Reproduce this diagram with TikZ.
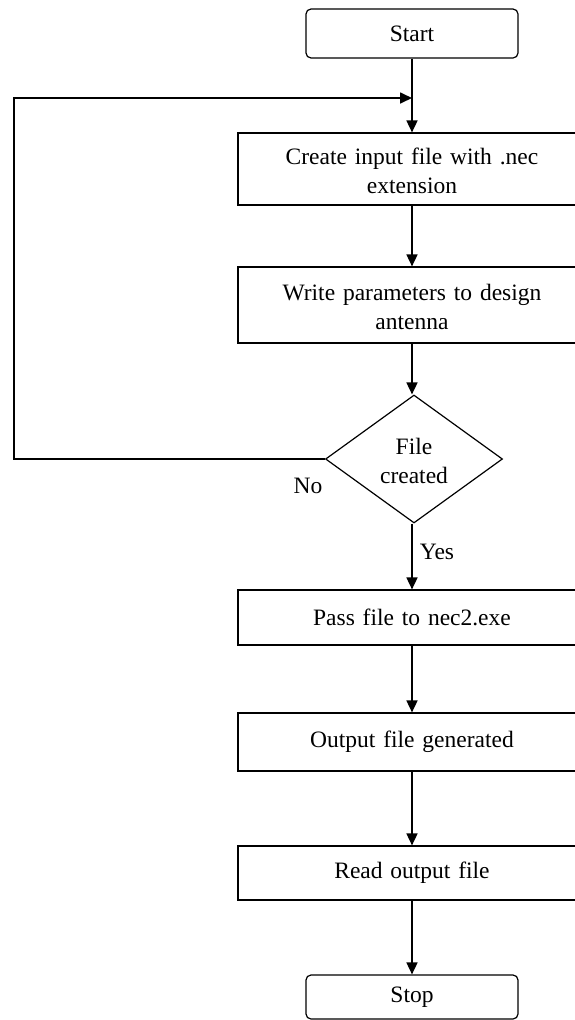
\documentclass[tikz,border=0pt]{standalone}
\usepackage{fontspec}
\setmainfont{Liberation Serif}
\usetikzlibrary{shapes.geometric,arrows.meta}

\tikzset{
  base/.style={draw=black, line width=1.2pt, inner sep=0pt, align=center,
    font=\fontsize{23.5}{29.5}\selectfont},
  terminal/.style={base, rectangle, rounded corners=5pt, minimum width=212pt},
  process/.style={base, rectangle, minimum width=348pt, text width=330pt},
  decision/.style={base, diamond, minimum width=177pt, minimum height=128pt},
  flow/.style={draw=black, line width=1.7pt, -{Triangle[length=12pt,width=11pt]}},
  lbl/.style={inner sep=0pt, font=\fontsize{23.5}{29}\selectfont}
}

\begin{document}
\begin{tikzpicture}[x=1pt, y=-1pt]
  \useasboundingbox (0,0) rectangle (574,1020);

  % steps of the procedure, top to bottom
  \node[terminal, minimum height=49pt] (start) at (412,33.5) {Start};
  \node[process, minimum height=72pt] (create) at (412,169) {\strut Create input file with .nec\\extension};
  \node[process, minimum height=76pt] (write) at (412,305) {\strut Write parameters to design\\antenna};
  \node[decision] (check) at (414,459) {\strut File\\created};
  \node[process, minimum height=55pt] (pass) at (412,617.5) {Pass file to nec2.exe};
  \node[process, minimum height=58pt] (output) at (412,742) {Output file generated};
  \node[process, minimum height=54pt] (read) at (412,873) {Read output file};
  \node[terminal, minimum height=44pt] (stop) at (412,997) {Stop};

  % return path when the file was not created
  \coordinate (corner) at (14,98);
  \coordinate (merge) at (start.south |- corner);

  \draw[flow] (start.south) -- (create.north);
  \draw[flow] (create.south) -- (write.north);
  \draw[flow] (write.south) -- (write.south |- check.north);
  \draw[flow] (check.south -| pass.north) -- (pass.north);
  \draw[flow] (pass.south) -- (output.north);
  \draw[flow] (output.south) -- (read.north);
  \draw[flow] (read.south) -- (stop.north);
  \draw[flow] (check.west) -| (corner) -- (merge);

  \node[lbl] (no) at (308,486) {No};
  \node[lbl] (yes) at (437,552) {Yes};
\end{tikzpicture}
\end{document}
